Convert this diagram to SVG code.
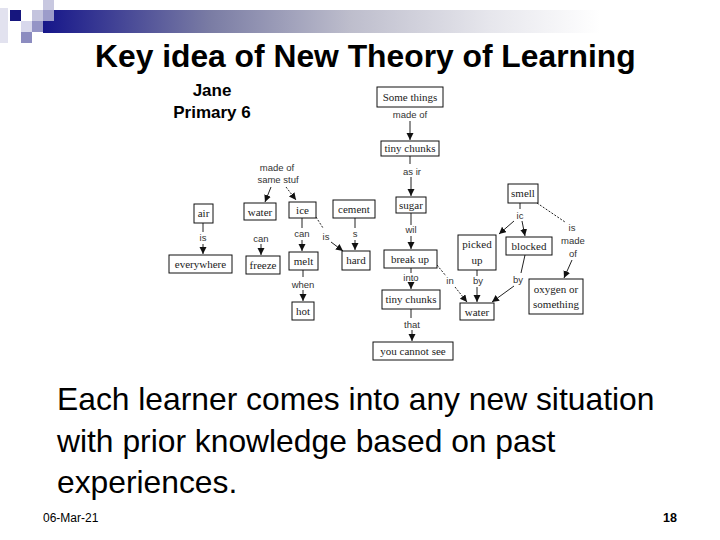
<svg xmlns="http://www.w3.org/2000/svg" width="720" height="540" viewBox="0 0 720 540">
<style>
.n rect{fill:#fff;stroke:#111;stroke-width:1}
.n text{font-family:"Liberation Serif",serif;font-size:11px;fill:#222;text-anchor:middle}
.lb{font-family:"Liberation Sans",sans-serif;font-size:9.5px;fill:#333;text-anchor:middle}
.c line{stroke:#222;stroke-width:1;fill:none}
.c .a{marker-end:url(#ah)}
.c .d{stroke-dasharray:2,1.5}
.body{font-family:"Liberation Sans",Arial,sans-serif;font-size:31.8px;fill:#000}
</style>
<defs>
<linearGradient id="bar" x1="43" y1="0" x2="600" y2="0" gradientUnits="userSpaceOnUse">
<stop offset="0" stop-color="#16168a"/>
<stop offset="0.3" stop-color="#7a7ca4"/>
<stop offset="0.55" stop-color="#bdbdcc"/>
<stop offset="0.8" stop-color="#e6e6ec"/>
<stop offset="1" stop-color="#ffffff"/>
</linearGradient>
<marker id="ah" markerUnits="userSpaceOnUse" markerWidth="8" markerHeight="8" refX="7" refY="3.5" orient="auto">
<path d="M0,0 L7,3.5 L0,7 z" fill="#111"/>
</marker>
</defs>
<rect width="720" height="540" fill="#fff"/>
<g id="decoration">
<rect x="43" y="10" width="677" height="23" fill="url(#bar)"/>
<rect x="0" y="8" width="8" height="35" fill="#e2e2ef"/>
<rect x="10" y="10" width="11" height="11" fill="#16167e"/>
<rect x="43" y="0" width="11" height="10" fill="#c8c8e0"/>
<rect x="32" y="10" width="11" height="11" fill="#c4c4de"/>
<rect x="43" y="10" width="11" height="11" fill="#9c9cca"/>
<rect x="21" y="21" width="11" height="11" fill="#d8d8ec"/>
<rect x="32" y="21" width="11" height="11" fill="#9494c6"/>
<rect x="21" y="32" width="11" height="11" fill="#8c8cc0"/>
</g>
<text x="95" y="67" font-family="Liberation Sans,Arial,sans-serif" font-size="31.8" font-weight="bold" fill="#000">Key idea of New Theory of Learning</text>
<text x="212" y="96" font-family="Liberation Sans,Arial,sans-serif" font-size="17" font-weight="bold" text-anchor="middle">Jane</text>
<text x="212" y="118" font-family="Liberation Sans,Arial,sans-serif" font-size="17" font-weight="bold" text-anchor="middle">Primary 6</text>

<g id="connectors" class="c">
<line x1="410" y1="121" x2="410" y2="140" class="a"/>
<line x1="410" y1="156" x2="410" y2="164"/>
<line x1="411" y1="177" x2="411" y2="196" class="a"/>
<line x1="411" y1="213" x2="411" y2="225"/>
<line x1="411" y1="236" x2="411" y2="249" class="a"/>
<line x1="411" y1="268" x2="411" y2="273"/>
<line x1="411" y1="283" x2="411" y2="289" class="a"/>
<line x1="411" y1="309" x2="411" y2="318"/>
<line x1="412" y1="330" x2="412" y2="341" class="a"/>
<line x1="203" y1="223" x2="203" y2="232"/>
<line x1="203" y1="244" x2="203" y2="254" class="a"/>
<line x1="261" y1="244" x2="261" y2="255" class="a"/>
<line x1="302" y1="218" x2="302" y2="228"/>
<line x1="302" y1="240" x2="302" y2="251" class="a"/>
<line x1="303" y1="270" x2="303" y2="277"/>
<line x1="303" y1="290" x2="303" y2="301" class="a"/>
<line x1="316" y1="217" x2="323" y2="228" class="d"/>
<line x1="331" y1="242" x2="343" y2="251" class="a"/>
<line x1="355" y1="218" x2="355" y2="228"/>
<line x1="355" y1="240" x2="355" y2="250" class="a"/>
<line x1="271" y1="187" x2="265" y2="202" class="a"/>
<line x1="286" y1="187" x2="296" y2="200" class="a d"/>
<line x1="520" y1="203" x2="520" y2="209"/>
<line x1="514" y1="221" x2="499" y2="234" class="a"/>
<line x1="522" y1="221" x2="525" y2="236" class="a"/>
<line x1="537" y1="203" x2="565" y2="222" class="d"/>
<line x1="572" y1="260" x2="564" y2="278" class="a"/>
<line x1="477" y1="270" x2="477" y2="276"/>
<line x1="477" y1="287" x2="477" y2="302" class="a"/>
<line x1="525" y1="255" x2="521" y2="273"/>
<line x1="514" y1="286" x2="492" y2="302" class="a"/>
<line x1="437" y1="265" x2="446" y2="276" class="d"/>
<line x1="455" y1="287" x2="467" y2="302" class="a d"/>
</g>

<g id="labels">
<text class="lb" x="410" y="118">made of</text>
<text class="lb" x="412" y="175">as ir</text>
<text class="lb" x="411" y="233">wil</text>
<text class="lb" x="411" y="281">into</text>
<text class="lb" x="412" y="328">that</text>
<text class="lb" x="203" y="241">is</text>
<text class="lb" x="261" y="242">can</text>
<text class="lb" x="302" y="237">can</text>
<text class="lb" x="303" y="288">when</text>
<text class="lb" x="326" y="240">is</text>
<text class="lb" x="355" y="237">s</text>
<text class="lb" x="277" y="171">made of</text>
<text class="lb" x="278" y="183">same stuf</text>
<text class="lb" x="520" y="219">ic</text>
<text class="lb" x="572" y="231">is</text>
<text class="lb" x="573" y="244">made</text>
<text class="lb" x="573" y="257">of</text>
<text class="lb" x="450" y="284">in</text>
<text class="lb" x="478" y="284">by</text>
<text class="lb" x="518" y="283">by</text>
</g>

<g id="some-things" class="n"><rect x="377" y="87" width="66" height="20"/><text x="410" y="101">Some things</text></g>
<g id="tiny-chunks-1" class="n"><rect x="381" y="141" width="58" height="15"/><text x="410" y="152">tiny chunks</text></g>
<g id="sugar" class="n"><rect x="396" y="197" width="30" height="16"/><text x="411" y="209">sugar</text></g>
<g id="break-up" class="n"><rect x="384" y="250" width="53" height="18"/><text x="410" y="263">break up</text></g>
<g id="tiny-chunks-2" class="n"><rect x="382" y="290" width="58" height="19"/><text x="411" y="303">tiny chunks</text></g>
<g id="you-cannot-see" class="n"><rect x="373" y="342" width="80" height="18"/><text x="413" y="355">you cannot see</text></g>
<g id="air" class="n"><rect x="194" y="204" width="19" height="19"/><text x="203.5" y="217">air</text></g>
<g id="everywhere" class="n"><rect x="169" y="255" width="63" height="18"/><text x="200.5" y="268">everywhere</text></g>
<g id="water-1" class="n"><rect x="244" y="203" width="32" height="17"/><text x="260" y="216">water</text></g>
<g id="freeze" class="n"><rect x="246" y="256" width="34" height="18"/><text x="263" y="269">freeze</text></g>
<g id="ice" class="n"><rect x="289" y="202" width="27" height="16"/><text x="302.5" y="214">ice</text></g>
<g id="melt" class="n"><rect x="289" y="252" width="29" height="18"/><text x="303.5" y="265">melt</text></g>
<g id="hot" class="n"><rect x="292" y="302" width="22" height="18"/><text x="303" y="315">hot</text></g>
<g id="cement" class="n"><rect x="333" y="200" width="42" height="18"/><text x="354" y="213">cement</text></g>
<g id="hard" class="n"><rect x="342" y="251" width="28" height="19"/><text x="356" y="264">hard</text></g>
<g id="smell" class="n"><rect x="508" y="184" width="30" height="19"/><text x="523" y="197">smell</text></g>
<g id="picked-up" class="n"><rect x="458" y="235" width="38" height="35"/><text x="477" y="248">picked</text><text x="477" y="264">up</text></g>
<g id="blocked" class="n"><rect x="506" y="237" width="46" height="18"/><text x="529" y="250">blocked</text></g>
<g id="water-2" class="n"><rect x="460" y="303" width="34" height="17"/><text x="477" y="316">water</text></g>
<g id="oxygen" class="n"><rect x="529" y="279" width="54" height="35"/><text x="556" y="293">oxygen or</text><text x="556" y="308">something</text></g>

<text class="body" x="57" y="410">Each learner comes into any new situation</text>
<text class="body" x="57" y="452">with prior knowledge based on past</text>
<text class="body" x="57" y="493">experiences.</text>
<text x="43" y="522" font-family="Liberation Sans,Arial,sans-serif" font-size="12">06-Mar-21</text>
<text x="663" y="522" font-family="Liberation Sans,Arial,sans-serif" font-size="12.5" font-weight="bold">18</text>
</svg>
